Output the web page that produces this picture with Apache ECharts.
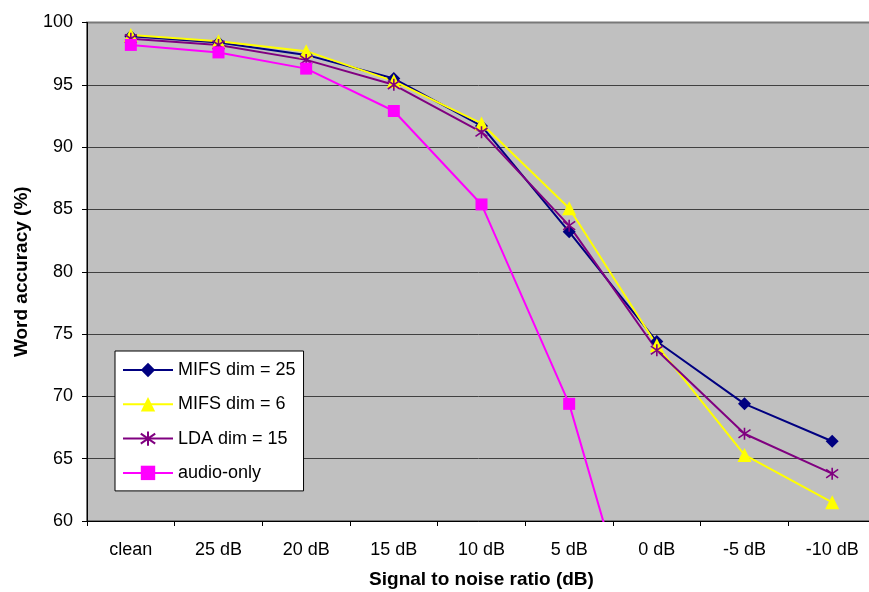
<!DOCTYPE html>
<html>
<head>
<meta charset="utf-8">
<script src="https://cdn.jsdelivr.net/npm/echarts@6/dist/echarts.min.js"></script>
<style>
html,body{margin:0;padding:0;background:#fff;}
#chart{width:869px;height:592px;}
</style>
</head>
<body>
<div id="chart"></div>
<script>
const categories = ['clean', '25 dB', '20 dB', '15 dB', '10 dB', '5 dB', '0 dB', '-5 dB', '-10 dB'];
const mifs25 = [98.9, 98.4, 97.4, 95.5, 91.7, 83.2, 74.4, 69.4, 66.4];
const mifs6  = [99.0, 98.5, 97.7, 95.3, 91.9, 85.1, 74.1, 65.3, 61.5];
const lda15  = [98.7, 98.2, 97.0, 95.0, 91.2, 83.7, 73.7, 67.0, 63.8];
const audioOnly = [98.2, 97.6, 96.3, 92.9, 85.4, 69.4, 45.2, 30.0, 20.0];
const seriesNames = ['MIFS dim = 25', 'MIFS dim = 6', 'LDA dim = 15', 'audio-only'];
const yMin = 60, yMax = 100, yStep = 5;

const FONT = '"Liberation Sans", Arial, sans-serif';
const starPath = 'path://M5 0 L5 10 M1.5 1.5 L8.5 8.5 M1.5 8.5 L8.5 1.5';

const chart = echarts.init(document.getElementById('chart'));
function mk(name, data, color, symbol, size, extra) {
  return Object.assign({
    name: name,
    type: 'line',
    data: data,
    symbol: symbol,
    symbolSize: size,
    showAllSymbol: true,
    clip: true,
    lineStyle: {color: color, width: 2},
    itemStyle: {color: color, borderColor: color, borderWidth: 0},
    emphasis: {disabled: true},
    animation: false
  }, extra || {});
}
chart.setOption({
  animation: false,
  backgroundColor: '#ffffff',
  grid: {
    left: 87, top: 22.5, width: 789, height: 498.5,
    outerBoundsMode: 'none',
    containLabel: false,
    show: true, backgroundColor: '#c0c0c0', borderColor: '#787878', borderWidth: 2
  },
  legend: {
    orient: 'vertical',
    left: 115, top: 351,
    padding: [10, 8, 9, 7],
    backgroundColor: '#ffffff',
    borderColor: '#000000',
    borderWidth: 1,
    itemWidth: 50,
    itemHeight: 18,
    itemGap: 16.3,
    textStyle: {fontFamily: FONT, fontSize: 18, color: '#000', lineHeight: 18},
    data: seriesNames
  },
  xAxis: {
    type: 'category',
    data: categories,
    boundaryGap: true,
    name: 'Signal to noise ratio (dB)',
    nameLocation: 'middle',
    nameGap: 49,
    nameTextStyle: {fontFamily: FONT, fontSize: 19, fontWeight: 'bold', color: '#000'},
    axisLine: {show: true, lineStyle: {color: '#000', width: 1}},
    axisTick: {show: true, length: 5, inside: false, lineStyle: {color: '#000'}},
    axisLabel: {fontFamily: FONT, fontSize: 18, color: '#000', margin: 20},
    splitLine: {show: false}
  },
  yAxis: {
    type: 'value',
    min: yMin, max: yMax, interval: yStep,
    name: 'Word accuracy (%)',
    nameLocation: 'middle',
    nameGap: 56,
    nameTextStyle: {fontFamily: FONT, fontSize: 19, fontWeight: 'bold', color: '#000'},
    axisLine: {show: true, lineStyle: {color: '#000', width: 1}},
    axisTick: {show: true, length: 5, inside: false, lineStyle: {color: '#000'}},
    axisLabel: {fontFamily: FONT, fontSize: 18, color: '#000', margin: 14},
    splitLine: {show: true, showMaxLine: false, showMinLine: false, lineStyle: {color: '#404040', width: 1}}
  },
  series: [
    mk(seriesNames[0], mifs25, '#000080', 'diamond', 13),
    mk(seriesNames[1], mifs6, '#ffff00', 'triangle', 14),
    mk(seriesNames[2], lda15, '#800080', starPath, 12, {itemStyle: {color: '#800080', borderColor: '#800080', borderWidth: 1.6}}),
    mk(seriesNames[3], audioOnly, '#ff00ff', 'rect', 12)
  ]
});
</script>
</body>
</html>
